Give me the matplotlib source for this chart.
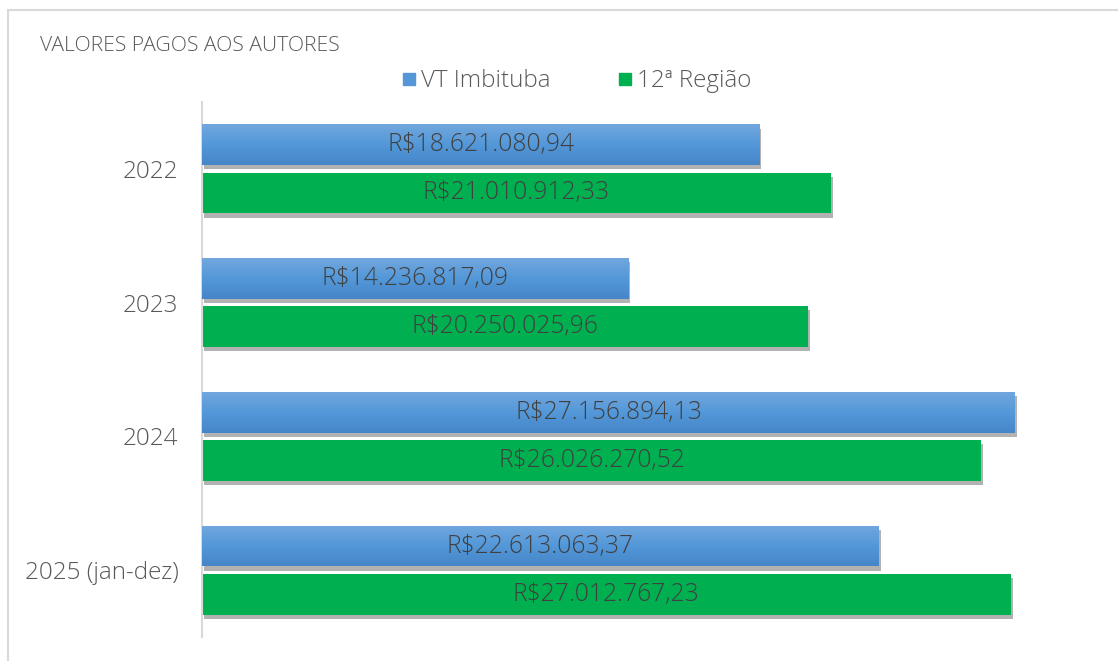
import matplotlib
matplotlib.use("Agg")
import matplotlib.pyplot as plt
import matplotlib.patheffects as pe
from matplotlib.patches import Rectangle
from matplotlib.lines import Line2D
from matplotlib.colors import LinearSegmentedColormap
import numpy as np

categories = ["2022", "2023", "2024", "2025 (jan-dez)"]
vt_imbituba = [18621080.94, 14236817.09, 27156894.13, 22613063.37]
regiao12 = [21010912.33, 20250025.96, 26026270.52, 27012767.23]
series_names = ["VT Imbituba", "12ª Região"]
title = "VALORES PAGOS AOS AUTORES"

def brl(v):
    s = f"{v:,.2f}"
    s = s.replace(",", "X").replace(".", ",").replace("X", ".")
    return "R$" + s

W, H = 1118, 661
plt.rcParams['font.family'] = ['Open Sans', 'DejaVu Sans']
plt.rcParams['font.weight'] = 'light'
fig = plt.figure(figsize=(W / 100, H / 100), dpi=100)

# outer frame
fig.patches.append(Rectangle((8 / W, -0.1), 1.2, 1 - 10 / H + 0.1, transform=fig.transFigure,
                             fill=False, edgecolor="#d9d9d9", linewidth=1.5))

ax = fig.add_axes([202 / W, 24 / H, 898 / W, 535 / H])
y = np.arange(len(categories))
h = 0.305
off = 0.18
blue = "#5596d8"
green = "#00b050"
shadow = [pe.SimplePatchShadow(offset=(1.5, -3), shadow_rgbFace="#000000", alpha=0.3), pe.Normal()]

bars_b = ax.barh(y - off, vt_imbituba, height=h, color=blue, path_effects=shadow, zorder=2)
bars_g = ax.barh(y + off, regiao12, height=h, color=green, path_effects=shadow, zorder=2)

# gradient for blue bars
grad = np.linspace(0, 1, 100).reshape(-1, 1)
cmap = LinearSegmentedColormap.from_list("bg", ["#72a7de", "#5398d9", "#4686c8"])
for b in bars_b:
    x0, y0 = b.get_x(), b.get_y()
    im = ax.imshow(grad, extent=[x0, x0 + b.get_width(), y0 + b.get_height(), y0],
                   aspect="auto", cmap=cmap, zorder=3, interpolation="bicubic")
    im.set_clip_path(b)

for b, v in zip(bars_b, vt_imbituba):
    ax.text(b.get_x() + b.get_width() / 2, b.get_y() + b.get_height() / 2, brl(v),
            ha="center", va="center", fontsize=17.7, color="#404040", zorder=5)
for b, v in zip(bars_g, regiao12):
    ax.text(b.get_x() + b.get_width() / 2, b.get_y() + b.get_height() / 2, brl(v),
            ha="center", va="center", fontsize=17.7, color="#404040", zorder=5)

ax.set_xlim(0, 30e6)
ax.set_ylim(len(categories) - 0.5, -0.5)
ax.set_yticks(y)
ax.set_yticklabels(categories, fontsize=17.5, color="#595959")
ax.tick_params(axis="y", length=0, pad=17)
ax.set_xticks([])
for s in ["top", "right", "bottom"]:
    ax.spines[s].set_visible(False)
ax.spines["left"].set_color("#d9d9d9")
ax.spines["left"].set_linewidth(1.5)

fig.text(40 / W, 1 - 46 / H, title, fontsize=15.2, color="#595959", va="center", ha="left")

handles = [Line2D([], [], marker="s", linestyle="", markersize=8, markerfacecolor=c, markeredgecolor=c)
           for c in [blue, green]]
fig.legend(handles, series_names, loc="center", bbox_to_anchor=(574 / W, 1 - 81 / H), ncol=2,
           frameon=False, fontsize=17.4, labelcolor="#595959", handletextpad=0.0, columnspacing=2.6,
           handlelength=1.0)

fig.savefig("out.png", dpi=100, facecolor="white")
